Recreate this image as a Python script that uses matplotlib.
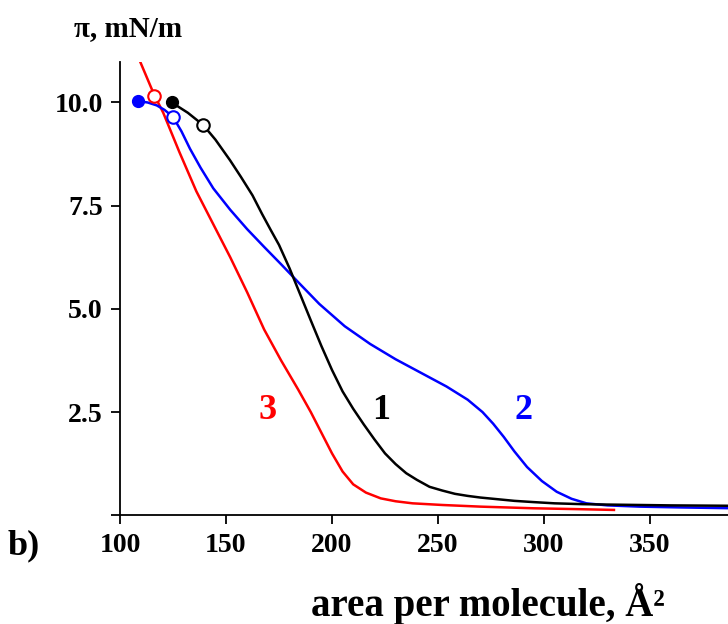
import matplotlib
matplotlib.use("Agg")
import matplotlib.pyplot as plt

plt.rcParams['font.family'] = ['Liberation Serif', 'DejaVu Serif']
plt.rcParams['font.weight'] = 'bold'

# curve 1 (black)
x1 = [124.4, 132.0, 139.3, 145.0, 151.9, 157.0, 162.5, 167.0, 171.0, 175.0,
      180.0, 185.0, 190.0, 195.0, 200.0, 205.0, 210.0, 215.0, 220.0, 225.0,
      230.0, 235.0, 240.0, 246.0, 252.0, 258.0, 264.0, 270.0, 278.0, 286.0,
      295.0, 305.0, 318.0, 330.0, 345.0, 360.0, 375.0, 390.0]
y1 = [10.0, 9.75, 9.45, 9.1, 8.6, 8.2, 7.75, 7.3, 6.92, 6.55,
      5.98, 5.35, 4.72, 4.1, 3.52, 3.0, 2.58, 2.2, 1.84, 1.5,
      1.24, 1.02, 0.86, 0.69, 0.6, 0.52, 0.47, 0.43, 0.39, 0.35,
      0.32, 0.29, 0.27, 0.26, 0.25, 0.24, 0.235, 0.23]
# curve 2 (blue)
x2 = [108.5, 113.0, 117.3, 121.0, 125.0, 129.0, 133.0, 138.0, 144.0, 152.0,
      160.0, 168.0, 176.0, 184.0, 194.0, 206.0, 218.0, 230.0, 242.0, 254.0,
      264.0, 271.0, 276.0, 281.0, 286.0, 292.0, 299.0, 306.0, 313.0, 320.0,
      330.0, 345.0, 365.0, 390.0]
y2 = [10.03, 10.0, 9.93, 9.82, 9.65, 9.3, 8.88, 8.42, 7.92, 7.4,
      6.93, 6.5, 6.08, 5.65, 5.12, 4.58, 4.15, 3.78, 3.45, 3.12,
      2.8, 2.5, 2.22, 1.9, 1.55, 1.17, 0.83, 0.57, 0.4, 0.29,
      0.24, 0.21, 0.19, 0.17]
# curve 3 (red)
x3 = [109.0, 116.0, 120.4, 128.0, 136.0, 144.0, 152.0, 160.0, 168.0, 176.0,
      184.0, 190.0, 195.0, 200.0, 205.0, 210.0, 216.0, 223.0, 230.0, 238.0,
      252.0, 270.0, 295.0, 315.0, 333.0]
y3 = [11.05, 10.2, 9.75, 8.8, 7.85, 7.05, 6.25, 5.4, 4.5, 3.75,
      3.05, 2.5, 2.0, 1.5, 1.06, 0.75, 0.55, 0.41, 0.34, 0.29,
      0.25, 0.21, 0.17, 0.15, 0.13]

# marked points: filled = start, open = transition
filled_x = [124.4, 108.5]
filled_y = [10.0, 10.03]
open_x = [139.3, 125.0, 116.0]
open_y = [9.45, 9.65, 10.16]
colors = ['black', '#0000ff', '#ff0000']
filled_colors = ['black', '#0000ff']
open_colors = ['black', '#0000ff', '#ff0000']

curve_labels = ['1', '2', '3']
label_x = [223.1, 290.1, 169.8]
label_y = [2.55, 2.55, 2.55]

fig = plt.figure(figsize=(7.28, 6.24), dpi=100)
ax = fig.add_axes([120 / 728, 1 - 515.3 / 624, 1 - 120 / 728, (515.3 - 62) / 624])

lw = 1.8
ax.plot(x1, y1, color=colors[0], lw=lw, zorder=3)
ax.plot(x2, y2, color=colors[1], lw=lw, zorder=2)
ax.plot(x3, y3, color=colors[2], lw=lw, zorder=1)

for xf, yf, c in zip(filled_x, filled_y, filled_colors):
    ax.plot(xf, yf, 'o', color=c, ms=8.5, zorder=5)
for xo, yo, c in zip(open_x, open_y, open_colors):
    ax.plot(xo, yo, 'o', mfc='white', mec=c, mew=1.5, ms=9, zorder=5)

for t, lx, ly, c in zip(curve_labels, label_x, label_y, colors):
    ax.text(lx, ly, t, color=c, fontsize=26, fontweight='bold',
            ha='center', va='center')

ax.set_xlim(100, 100 + 608 / 2.12)
ax.set_ylim(0, 10.98)
ax.set_xticks([100, 150, 200, 250, 300, 350])
ax.set_yticks([0, 2.5, 5.0, 7.5, 10.0])
ax.set_yticklabels(['', '2.5', '5.0', '7.5', '10.0'])
ax.spines['top'].set_visible(False)
ax.spines['right'].set_visible(False)
for s in ['left', 'bottom']:
    ax.spines[s].set_linewidth(1.3)
ax.tick_params(direction='out', length=6.5, width=1.3, labelsize=20, pad=6)
ax.tick_params(axis='x', pad=6)
for lab in ax.get_xticklabels() + ax.get_yticklabels():
    lab.set_fontweight('bold')

fig.text(128 / 728, 1 - 36 / 624, 'π, mN/m', fontsize=21, fontweight='bold',
         ha='center', va='baseline')
fig.text(488 / 728, 1 - 616 / 624, 'area per molecule, Å²', fontsize=28,
         fontweight='bold', ha='center', va='baseline')
fig.text(8 / 728, 1 - 554 / 624, 'b)', fontsize=26, fontweight='bold',
         ha='left', va='baseline')

fig.savefig('out.png', dpi=100)
